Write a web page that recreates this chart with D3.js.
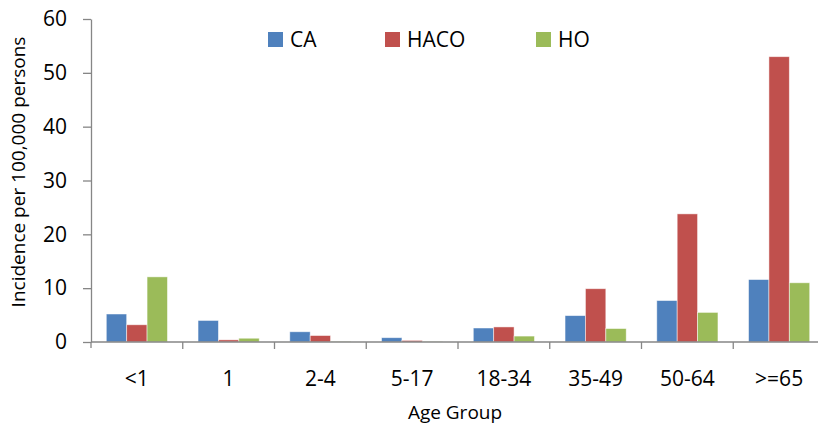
<!DOCTYPE html>
<html>
<head>
<meta charset="utf-8">
<script src="https://cdn.jsdelivr.net/npm/d3@7"></script>
<style>
  body { margin: 0; background: #fff; }
  svg { display: block; font-family: "Open Sans", "Noto Sans", sans-serif; }
</style>
</head>
<body>
<div id="chart"></div>
<script>
const ageGroups = ["<1", "1", "2-4", "5-17", "18-34", "35-49", "50-64", ">=65"];
const seriesNames = ["CA", "HACO", "HO"];
const caValues = [5.2, 4.0, 1.9, 0.8, 2.6, 4.9, 7.7, 11.6];
const hacoValues = [3.2, 0.4, 1.2, 0.3, 2.8, 9.9, 23.8, 53.0];
const hoValues = [12.1, 0.7, 0.1, 0.05, 1.1, 2.5, 5.5, 11.0];
const yTicks = [0, 10, 20, 30, 40, 50, 60];

const colors = ["#4F81BD", "#C0504D", "#9BBB59"];
const width = 818, height = 426;
const margin = { top: 19, right: -7, bottom: 84, left: 91 };

const rows = ageGroups.map((g, i) => ({
  group: g,
  values: [caValues[i], hacoValues[i], hoValues[i]]
}));

const svg = d3.select("#chart").append("svg")
  .attr("width", width)
  .attr("height", height)
  .attr("viewBox", [0, 0, width, height]);

const x = d3.scaleBand()
  .domain(ageGroups)
  .range([margin.left, width - margin.right])
  .padding(0);

const xInner = d3.scaleBand()
  .domain(seriesNames)
  .range([x.bandwidth() / 6, x.bandwidth() * 5 / 6]);

const y = d3.scaleLinear()
  .domain([0, 60])
  .range([height - margin.bottom, margin.top]);

const axisColor = "#868686";

// bars
svg.append("g")
  .selectAll("g")
  .data(rows)
  .join("g")
    .attr("transform", d => `translate(${x(d.group)},0)`)
  .selectAll("rect")
  .data(d => d.values.map((v, i) => ({ key: seriesNames[i], value: v, i })))
  .join("rect")
    .attr("x", d => xInner(d.key))
    .attr("y", d => y(d.value))
    .attr("width", xInner.bandwidth())
    .attr("height", d => y(0) - y(d.value))
    .attr("fill", d => colors[d.i])
    .attr("stroke", "#ffffff")
    .attr("stroke-opacity", 0.6)
    .attr("stroke-width", 0.8);

// y axis
svg.append("g")
  .attr("transform", `translate(${margin.left},0)`)
  .call(d3.axisLeft(y).tickValues(yTicks).tickSize(8).tickPadding(16).tickSizeOuter(0))
  .call(g => g.select(".domain").attr("stroke", axisColor).attr("stroke-width", 1.3))
  .call(g => g.selectAll(".tick line").attr("stroke", axisColor).attr("stroke-width", 1.3))
  .call(g => g.selectAll(".tick text")
    .attr("fill", "#000")
    .style("font-family", "'Open Sans', sans-serif")
    .style("font-size", "21px"));

// y axis extends slightly below zero
svg.append("line")
  .attr("x1", margin.left).attr("x2", margin.left)
  .attr("y1", y(0)).attr("y2", y(0) + 6)
  .attr("stroke", axisColor).attr("stroke-width", 1.3);

// x axis
const xAxisG = svg.append("g")
  .attr("transform", `translate(0,${y(0)})`);

xAxisG.append("line")
  .attr("x1", margin.left).attr("x2", width)
  .attr("stroke", axisColor).attr("stroke-width", 1.3);

xAxisG.selectAll(".sep")
  .data(ageGroups.slice(1))
  .join("line")
    .attr("class", "sep")
    .attr("x1", d => x(d)).attr("x2", d => x(d))
    .attr("y1", 0).attr("y2", 7)
    .attr("stroke", axisColor).attr("stroke-width", 1.3);

xAxisG.selectAll(".lbl")
  .data(ageGroups)
  .join("text")
    .attr("class", "lbl")
    .attr("x", d => x(d) + x.bandwidth() / 2)
    .attr("y", 44)
    .attr("text-anchor", "middle")
    .style("font-size", "21px")
    .text(d => d);

// axis titles
svg.append("text")
  .attr("x", 455)
  .attr("y", 419)
  .attr("text-anchor", "middle")
  .style("font-size", "19px")
  .text("Age Group");

svg.append("text")
  .attr("transform", `translate(25,172) rotate(-90)`)
  .attr("text-anchor", "middle")
  .style("font-size", "19px")
  .text("Incidence per 100,000 persons");

// legend
const legendX = [268, 385, 536];
const legend = svg.append("g")
  .selectAll("g")
  .data(seriesNames)
  .join("g")
    .attr("transform", (d, i) => `translate(${legendX[i]},32)`);

legend.append("rect")
  .attr("width", 15)
  .attr("height", 15)
  .attr("fill", (d, i) => colors[i]);

legend.append("text")
  .attr("x", 22)
  .attr("y", 15)
  .style("font-size", "21px")
  .text(d => d);
</script>
</body>
</html>
